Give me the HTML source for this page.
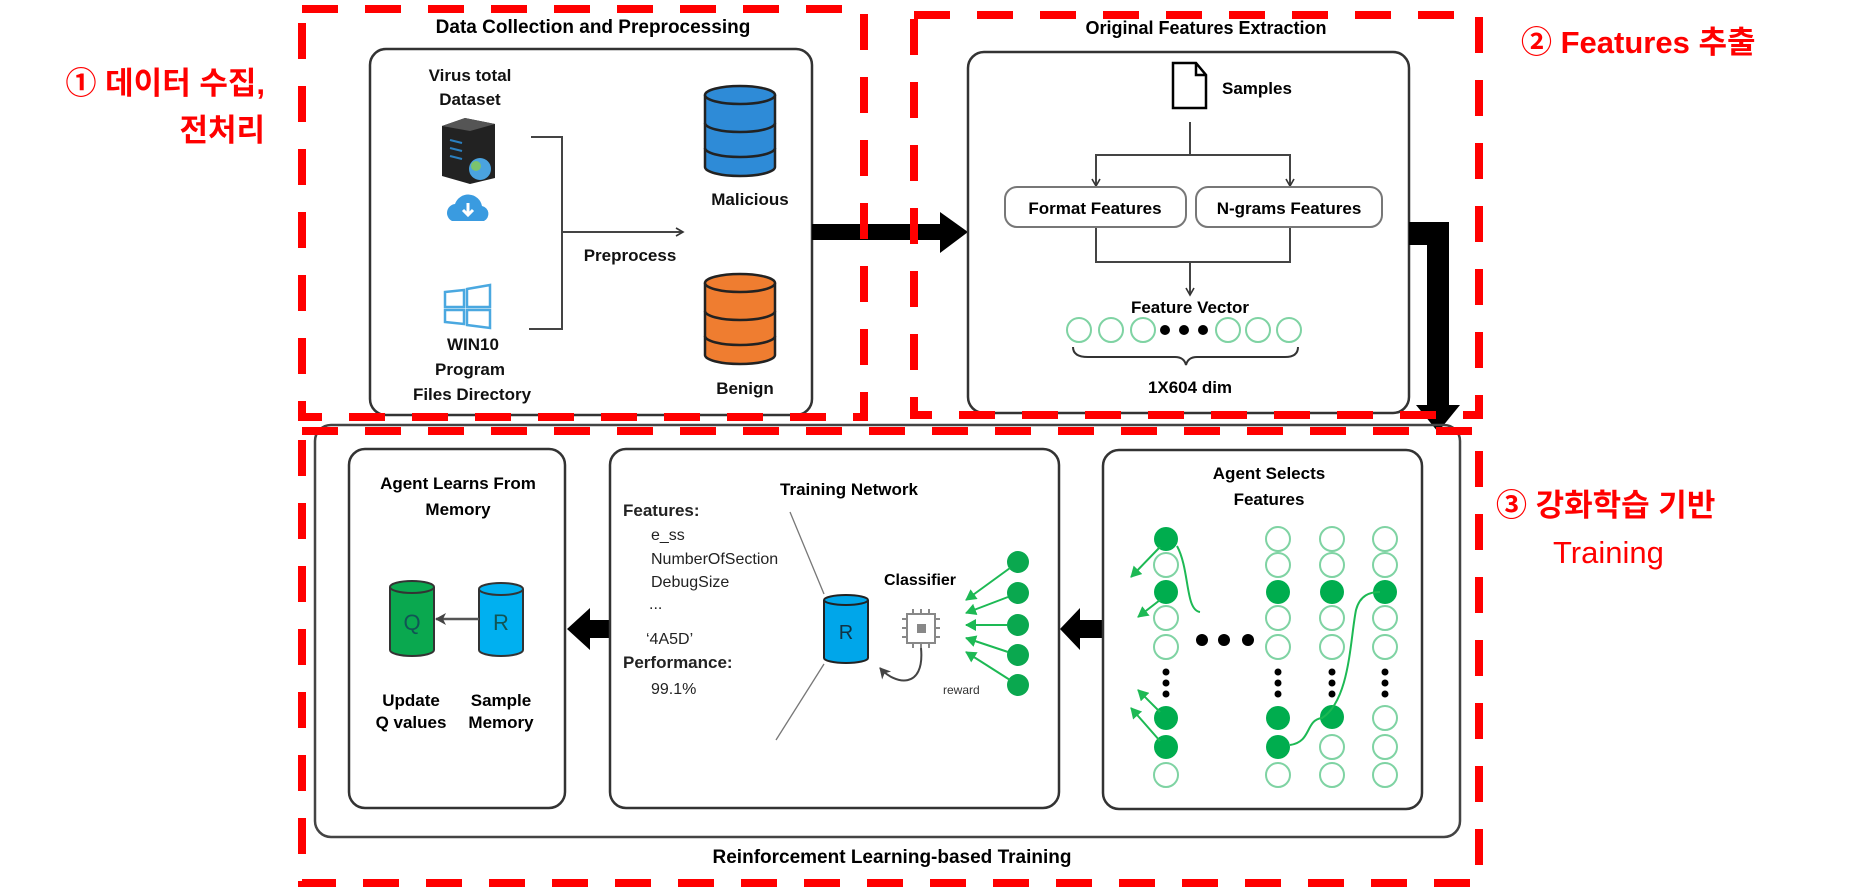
<!DOCTYPE html>
<html><head><meta charset="utf-8"><style>
html,body{margin:0;padding:0;background:#fff;width:1859px;height:889px;overflow:hidden}
svg{display:block}
text{font-family:"Liberation Sans","Noto Sans CJK KR",sans-serif}
</style></head><body>
<svg width="1859" height="889" viewBox="0 0 1859 889" xmlns="http://www.w3.org/2000/svg">
<defs>
<marker id="ah" markerWidth="10" markerHeight="10" refX="8" refY="5" orient="auto" markerUnits="userSpaceOnUse"><path d="M1,1 L8,5 L1,9" fill="none" stroke="#333" stroke-width="1.6"/></marker>
<marker id="gh" markerWidth="12" markerHeight="12" refX="10" refY="6" orient="auto" markerUnits="userSpaceOnUse"><path d="M0,0 L11,6 L0,12 Z" fill="#1db954"/></marker>
<marker id="dh" markerWidth="14" markerHeight="14" refX="10" refY="7" orient="auto" markerUnits="userSpaceOnUse"><path d="M0,1 L11,7 L0,13 L3,7 Z" fill="#444"/></marker>
</defs>

<!-- red labels -->
<g fill="#ff0000" font-weight="bold" font-size="31">
<text x="265" y="94" text-anchor="end">① 데이터 수집,</text>
<text x="265" y="141" text-anchor="end">전처리</text>
<text x="1521" y="53">② Features 추출</text>
<text x="1496" y="516">③ 강화학습 기반</text>
<text x="1553" y="563" font-weight="normal">Training</text>
</g>

<!-- Data collection -->
<text x="593" y="33" text-anchor="middle" font-size="19" font-weight="bold">Data Collection and Preprocessing</text>
<rect x="370" y="49" width="442" height="366" rx="16" fill="none" stroke="#333" stroke-width="2.5"/>
<g font-size="17" font-weight="bold" text-anchor="middle" fill="#111">
<text x="470" y="81">Virus total</text>
<text x="470" y="105">Dataset</text>
<text x="473" y="350">WIN10</text>
<text x="470" y="375">Program</text>
<text x="472" y="400">Files Directory</text>
<text x="630" y="261">Preprocess</text>
<text x="750" y="205">Malicious</text>
<text x="745" y="394">Benign</text>
</g>
<!-- server -->
<path d="M442,126 L465,118 L495,124 L495,178 L470,184 L442,176 Z" fill="#222"/>
<path d="M442,126 L465,118 L495,124 L470,131 Z" fill="#555"/>
<g stroke="#2a7fc0" stroke-width="2"><line x1="450" y1="140" x2="462" y2="143"/><line x1="450" y1="148" x2="462" y2="151"/><line x1="450" y1="156" x2="462" y2="159"/></g>
<circle cx="480" cy="169" r="11" fill="#4aa3df"/><circle cx="476" cy="166" r="5" fill="#7cc36e"/>
<!-- cloud -->
<path d="M452,221 a9,9 0 0 1 3,-17 a14,14 0 0 1 27,2 a8,8 0 0 1 2,15 Z" fill="#3a9be0"/>
<path d="M468,203 v12 M463,210 l5,5 l5,-5" stroke="#fff" stroke-width="3" fill="none"/>
<!-- windows -->
<g fill="none" stroke="#4aa8e0" stroke-width="2.5"><path d="M445,292 L464,290 L464,307 L445,307 Z M467,289 L490,285 L490,307 L467,307 Z M445,310 L464,310 L464,324 L445,322 Z M467,310 L490,310 L490,328 L467,325 Z"/></g>
<!-- bracket -->
<path d="M531,137 L562,137 L562,329 L529,329" fill="none" stroke="#444" stroke-width="2"/>
<line x1="562" y1="232" x2="683" y2="232" stroke="#444" stroke-width="2" marker-end="url(#ah)"/>
<!-- cylinders -->
<g stroke="#222" stroke-width="2.5">
<path d="M705,95 v72 a35,9 0 0 0 70,0 v-72" fill="#2e8bd7"/>
<ellipse cx="740" cy="95" rx="35" ry="9" fill="#2e8bd7"/>
<path d="M705,123 a35,9 0 0 0 70,0 M705,148 a35,9 0 0 0 70,0" fill="none"/>
<path d="M705,283 v72 a35,9 0 0 0 70,0 v-72" fill="#ef7d30"/>
<ellipse cx="740" cy="283" rx="35" ry="9" fill="#ef7d30"/>
<path d="M705,311 a35,9 0 0 0 70,0 M705,336 a35,9 0 0 0 70,0" fill="none"/>
</g>

<!-- big arrow 1->2 -->
<path d="M812,224 L940,224 L940,212 L968,232 L940,253 L940,240 L812,240 Z" fill="#000"/>

<!-- Original features -->
<text x="1206" y="34" text-anchor="middle" font-size="18" font-weight="bold">Original Features Extraction</text>
<rect x="968" y="52" width="441" height="361" rx="16" fill="none" stroke="#333" stroke-width="2.5"/>
<path d="M1173,63 L1196,63 L1206,75 L1206,108 L1173,108 Z M1196,63 L1196,75 L1206,75" fill="#fff" stroke="#000" stroke-width="2.5"/>
<text x="1222" y="94" font-size="17" font-weight="bold">Samples</text>
<g stroke="#444" stroke-width="2" fill="none">
<line x1="1190" y1="122" x2="1190" y2="155"/>
<path d="M1096,186 L1096,155 L1290,155 L1290,186"/>
<line x1="1096" y1="155" x2="1096" y2="186" marker-end="url(#ah)"/>
<line x1="1290" y1="155" x2="1290" y2="186" marker-end="url(#ah)"/>
<path d="M1096,227 L1096,262 L1290,262 L1290,227"/>
<line x1="1190" y1="262" x2="1190" y2="295" marker-end="url(#ah)"/>
</g>
<rect x="1005" y="187" width="181" height="40" rx="12" fill="#fff" stroke="#777" stroke-width="2"/>
<rect x="1196" y="187" width="186" height="40" rx="12" fill="#fff" stroke="#777" stroke-width="2"/>
<text x="1095" y="214" text-anchor="middle" font-size="17" font-weight="bold">Format Features</text>
<text x="1289" y="214" text-anchor="middle" font-size="17" font-weight="bold">N-grams Features</text>
<text x="1190" y="313" text-anchor="middle" font-size="17" font-weight="bold">Feature Vector</text>
<g fill="none" stroke="#7fd3a3" stroke-width="2">
<ellipse cx="1079" cy="330" rx="12" ry="12"/><ellipse cx="1111" cy="330" rx="12" ry="12"/><ellipse cx="1143" cy="330" rx="12" ry="12"/>
<ellipse cx="1228" cy="330" rx="12" ry="12"/><ellipse cx="1258" cy="330" rx="12" ry="12"/><ellipse cx="1289" cy="330" rx="12" ry="12"/>
</g>
<circle cx="1165" cy="330" r="5" fill="#000"/><circle cx="1184" cy="330" r="5" fill="#000"/><circle cx="1203" cy="330" r="5" fill="#000"/>
<path d="M1073,347 q0,10 15,10 L1175,357 q9,0 11,8 q2,-8 11,-8 L1285,357 q13,0 13,-10" fill="none" stroke="#333" stroke-width="2"/>
<text x="1190" y="393" text-anchor="middle" font-size="17" font-weight="bold">1X604 dim</text>

<!-- big arrow 2->3 -->
<path d="M1409,222 L1449,222 L1449,405 L1460,405 L1438,432 L1416,405 L1427,405 L1427,245 L1409,245 Z" fill="#000"/>

<!-- bottom outer -->
<rect x="315" y="425" width="1145" height="412" rx="16" fill="none" stroke="#444" stroke-width="2.5"/>
<text x="892" y="863" text-anchor="middle" font-size="19" font-weight="bold">Reinforcement Learning-based Training</text>

<!-- Agent learns -->
<rect x="349" y="449" width="216" height="359" rx="16" fill="none" stroke="#333" stroke-width="2.5"/>
<g font-size="17" font-weight="bold" text-anchor="middle">
<text x="458" y="489">Agent Learns From</text>
<text x="458" y="515">Memory</text>
<text x="411" y="706">Update</text>
<text x="411" y="728">Q values</text>
<text x="501" y="706">Sample</text>
<text x="501" y="728">Memory</text>
</g>
<g stroke="#333" stroke-width="2">
<path d="M390,587 v63 a22,6 0 0 0 44,0 v-63" fill="#0aa84f"/><ellipse cx="412" cy="587" rx="22" ry="6" fill="#0aa84f"/>
<path d="M479,589 v61 a22,6 0 0 0 44,0 v-61" fill="#00b0f0"/><ellipse cx="501" cy="589" rx="22" ry="6" fill="#00b0f0"/>
</g>
<text x="412" y="630" text-anchor="middle" font-size="22" fill="#155">Q</text>
<text x="501" y="630" text-anchor="middle" font-size="22" fill="#155">R</text>
<line x1="479" y1="619" x2="436" y2="619" stroke="#555" stroke-width="2.5" marker-end="url(#dh)"/>

<!-- arrow TN -> AL -->
<path d="M610,620 L590,620 L590,608 L567,629 L590,650 L590,638 L610,638 Z" fill="#000"/>

<!-- Training network -->
<rect x="610" y="449" width="449" height="359" rx="16" fill="none" stroke="#333" stroke-width="2.5"/>
<text x="849" y="495" text-anchor="middle" font-size="17" font-weight="bold">Training Network</text>
<g font-size="16" fill="#222">
<text x="623" y="516" font-weight="bold" font-size="17">Features:</text>
<text x="651" y="540">e_ss</text>
<text x="651" y="564">NumberOfSection</text>
<text x="651" y="587">DebugSize</text>
<text x="649" y="609">...</text>
<text x="646" y="644">‘4A5D’</text>
<text x="623" y="668" font-weight="bold" font-size="17">Performance:</text>
<text x="651" y="694">99.1%</text>
</g>
<line x1="790" y1="512" x2="824" y2="594" stroke="#777" stroke-width="1.3"/>
<line x1="824" y1="664" x2="776" y2="740" stroke="#777" stroke-width="1.3"/>
<g stroke="#222" stroke-width="2">
<path d="M824,600 v58 a22,5 0 0 0 44,0 v-58" fill="#00a6ea"/><ellipse cx="846" cy="600" rx="22" ry="5" fill="#00a6ea"/>
</g>
<text x="846" y="639" text-anchor="middle" font-size="20" fill="#134">R</text>
<text x="920" y="585" text-anchor="middle" font-size="16" font-weight="bold">Classifier</text>
<g stroke="#888" stroke-width="2" fill="none">
<rect x="907" y="614" width="28" height="29"/>
<path d="M913,609v5 M921,609v5 M929,609v5 M913,643v5 M921,643v5 M929,643v5 M902,619h5 M902,628h5 M902,637h5 M935,619h5 M935,628h5 M935,637h5"/>
</g>
<rect x="917" y="624" width="9" height="9" fill="#888"/>
<path d="M921,648 C925,690 895,685 880,668" fill="none" stroke="#444" stroke-width="2" marker-end="url(#dh)"/>
<text x="943" y="694" font-size="12" fill="#333">reward</text>
<g fill="#0aa84f">
<circle cx="1018" cy="562" r="11"/><circle cx="1018" cy="593" r="11"/><circle cx="1018" cy="625" r="11"/><circle cx="1018" cy="655" r="11"/><circle cx="1018" cy="685" r="11"/>
</g>
<g stroke="#1db954" stroke-width="2">
<line x1="1010" y1="568" x2="966" y2="600" marker-end="url(#gh)"/>
<line x1="1008" y1="597" x2="966" y2="613" marker-end="url(#gh)"/>
<line x1="1007" y1="625" x2="966" y2="625" marker-end="url(#gh)"/>
<line x1="1008" y1="652" x2="966" y2="638" marker-end="url(#gh)"/>
<line x1="1010" y1="680" x2="966" y2="652" marker-end="url(#gh)"/>
</g>

<!-- arrow AS -> TN -->
<path d="M1103,620 L1080,620 L1080,608 L1060,629 L1080,650 L1080,638 L1103,638 Z" fill="#000"/>

<!-- Agent selects -->
<rect x="1103" y="450" width="319" height="359" rx="16" fill="none" stroke="#333" stroke-width="2.5"/>
<text x="1269" y="479" text-anchor="middle" font-size="17" font-weight="bold">Agent Selects</text>
<text x="1269" y="505" text-anchor="middle" font-size="17" font-weight="bold">Features</text>
<g stroke="#7fd3a3" stroke-width="2" fill="none">
<circle cx="1166" cy="565" r="12"/><circle cx="1166" cy="618" r="12"/><circle cx="1166" cy="647" r="12"/><circle cx="1166" cy="775" r="12"/>
<circle cx="1278" cy="539" r="12"/><circle cx="1278" cy="565" r="12"/><circle cx="1278" cy="618" r="12"/><circle cx="1278" cy="647" r="12"/><circle cx="1278" cy="775" r="12"/>
<circle cx="1332" cy="539" r="12"/><circle cx="1332" cy="565" r="12"/><circle cx="1332" cy="618" r="12"/><circle cx="1332" cy="647" r="12"/><circle cx="1332" cy="747" r="12"/><circle cx="1332" cy="775" r="12"/>
<circle cx="1385" cy="539" r="12"/><circle cx="1385" cy="565" r="12"/><circle cx="1385" cy="618" r="12"/><circle cx="1385" cy="647" r="12"/><circle cx="1385" cy="718" r="12"/><circle cx="1385" cy="747" r="12"/><circle cx="1385" cy="775" r="12"/>
</g>
<g fill="#00ad4e">
<circle cx="1166" cy="539" r="12"/><circle cx="1166" cy="592" r="12"/><circle cx="1166" cy="718" r="12"/><circle cx="1166" cy="747" r="12"/>
<circle cx="1278" cy="592" r="12"/><circle cx="1278" cy="718" r="12"/><circle cx="1278" cy="747" r="12"/>
<circle cx="1332" cy="592" r="12"/><circle cx="1332" cy="717" r="12"/>
<circle cx="1385" cy="592" r="12"/>
</g>
<g fill="#000">
<circle cx="1202" cy="640" r="6"/><circle cx="1224" cy="640" r="6"/><circle cx="1248" cy="640" r="6"/>
<circle cx="1166" cy="672" r="3.5"/><circle cx="1166" cy="683" r="3.5"/><circle cx="1166" cy="694" r="3.5"/>
<circle cx="1278" cy="672" r="3.5"/><circle cx="1278" cy="683" r="3.5"/><circle cx="1278" cy="694" r="3.5"/>
<circle cx="1332" cy="672" r="3.5"/><circle cx="1332" cy="683" r="3.5"/><circle cx="1332" cy="694" r="3.5"/>
<circle cx="1385" cy="672" r="3.5"/><circle cx="1385" cy="683" r="3.5"/><circle cx="1385" cy="694" r="3.5"/>
</g>
<g stroke="#1db954" stroke-width="2" fill="none">
<line x1="1160" y1="547" x2="1131" y2="577" marker-end="url(#gh)"/>
<line x1="1160" y1="600" x2="1138" y2="617" marker-end="url(#gh)"/>
<line x1="1160" y1="712" x2="1138" y2="690" marker-end="url(#gh)"/>
<line x1="1160" y1="741" x2="1131" y2="708" marker-end="url(#gh)"/>
<path d="M1177,546 C1190,570 1185,610 1200,612"/>
<path d="M1290,745 C1312,742 1305,720 1322,718 C1350,700 1350,640 1356,610 C1360,595 1370,592 1380,592"/>
</g>

<!-- red dashed boxes -->
<g fill="none" stroke="#ff0000" stroke-width="8" stroke-dasharray="36 27">
<rect x="302" y="9" width="562" height="408"/>
<rect x="914" y="15" width="565" height="400"/>
<rect x="302" y="431" width="1177" height="452"/>
</g>
</svg>
</body></html>
